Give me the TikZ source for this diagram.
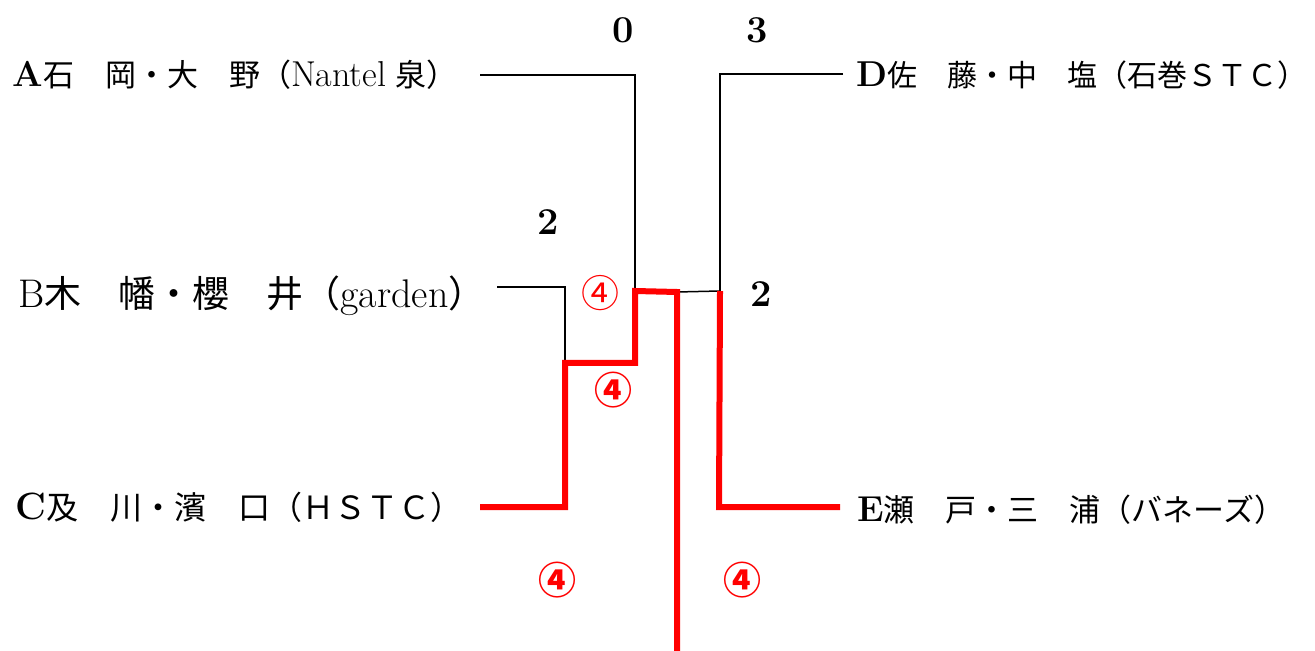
\documentclass[tikz,border=0pt]{standalone}
\usepackage{fontspec}
\newfontfamily\cjk{Noto Sans CJK JP}
\newcommand{\maru}{{\cjk ④}}
\newcommand{\lat}{\fontsize{18}{20}\selectfont}

\begin{document}
\begin{tikzpicture}[x=0.5pt,y=-0.5pt]
                        \tikzstyle{team}=[anchor=west,inner sep=0pt,font=\fontsize{15.5}{18}\selectfont]
                        \tikzstyle{score}=[inner sep=0pt,font=\fontsize{19}{21}\selectfont\bfseries]
                        \tikzstyle{win}=[inner sep=0pt,text=red,font=\fontsize{19}{21}\selectfont]
                        \tikzstyle{lose}=[line width=0.75pt]
                        \tikzstyle{won}=[line width=3pt,draw=red,line join=miter]
                        \useasboundingbox (0,0) rectangle (1315,651);
                        \node[team] (A) at (12,75) {{\lat\bfseries A}{\cjk 石　岡・大　野（}{\lat Nantel} {\cjk 泉）}};
                        \node[team,font=\fontsize{18.5}{21}\selectfont] (B) at (18,296) {{\fontsize{20}{22}\selectfont B}{\cjk 木　幡・櫻　井（}{\fontsize{20}{22}\selectfont garden}{\cjk ）}};
                        \node[team,font=\fontsize{16}{19}\selectfont] (C) at (15,507) {{\fontsize{19}{21}\selectfont\bfseries C}{\cjk 及　川・濱　口（ＨＳＴＣ）}};
                        \node[team,font=\fontsize{15}{18}\selectfont] (D) at (856,75) {{\lat\bfseries D}{\cjk 佐　藤・中　塩（石巻ＳＴＣ）}};
                        \node[team] (E) at (857,510) {{\lat\bfseries E}{\cjk 瀬　戸・三　浦（バネーズ）}};
                        \coordinate (A-end) at (480,75);
                        \coordinate (A-turn) at (635,75);
                        \coordinate (ABC) at (635,291);
                        \coordinate (B-end) at (497,287);
                        \coordinate (B-turn) at (565,287);
                        \coordinate (BC) at (565,363);
                        \coordinate (BC-turn) at (635,363);
                        \coordinate (C-end) at (480,507);
                        \coordinate (C-turn) at (565,507);
                        \coordinate (fin-top) at (677,292);
                        \coordinate (fin) at (677,651);
                        \coordinate (D-end) at (843,74);
                        \coordinate (D-turn) at (720,74);
                        \coordinate (DE) at (720,291);
                        \coordinate (E-turn) at (719,507);
                        \coordinate (E-end) at (840,507);
                        \draw[lose] (A-end) -- (A-turn) -- (ABC);
                        \draw[lose] (B-end) -- (B-turn) -- (BC);
                        \draw[lose] (D-end) -- (D-turn) -- (DE);
                        \draw[lose] (fin-top) -- (DE);
                        \draw[won] (C-end) -- (C-turn) -- (BC) -- (BC-turn) -- (ABC) -- (fin-top) -- (fin);
                        \draw[won] (DE) -- (E-turn) -- (E-end);
                        \node[score] (s0) at (623,30) {0};
                        \node[score] (s3) at (757,30) {3};
                        \node[score] (s2l) at (548,222) {2};
                        \node[score] (s2r) at (761,294) {2};
                        \node[win] (w1) at (600,293) {\maru};
                        \node[win] (w2) at (613,390) {\bfseries\maru};
                        \node[win] (w3) at (557,580) {\bfseries\maru};
                        \node[win] (w4) at (742,580) {\bfseries\maru};
                    \end{tikzpicture}
\end{document}
